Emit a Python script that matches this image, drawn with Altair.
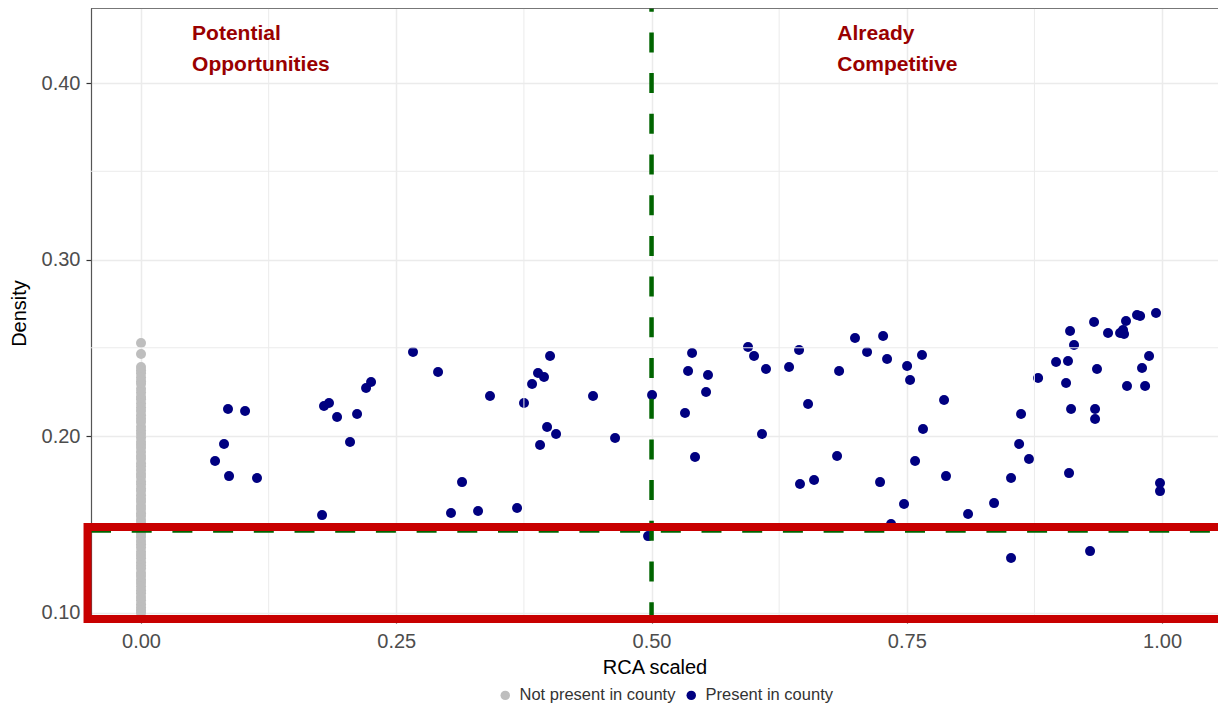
import altair as alt
import pandas as pd

# ---- data ----
present_x = [0.0725, 0.0813, 0.0852, 0.0862, 0.1019, 0.1136, 0.1773, 0.1792, 0.1841, 0.1920,
             0.2047, 0.2116, 0.2204, 0.2253, 0.2664, 0.2909, 0.3036, 0.3144, 0.3301, 0.3418,
             0.3683, 0.3751, 0.3830, 0.3888, 0.3947, 0.3908, 0.3977, 0.4006, 0.4065, 0.4427,
             0.4643, 0.5005, 0.4966, 0.5328, 0.5358, 0.5397, 0.5426, 0.5534, 0.5553, 0.5945,
             0.6004, 0.6082, 0.6121, 0.6347, 0.6445, 0.6454, 0.6533, 0.6592, 0.6817, 0.6837,
             0.6993, 0.7111, 0.7238, 0.7268, 0.7307, 0.7346, 0.7473, 0.7503, 0.7532, 0.7581,
             0.7649, 0.7659, 0.7865, 0.7884, 0.8100, 0.8355, 0.8521, 0.8521, 0.8600, 0.8619,
             0.8697, 0.8786, 0.8962, 0.9060, 0.9079, 0.9099, 0.9089, 0.9109, 0.9138, 0.9295,
             0.9334, 0.9344, 0.9344, 0.9363, 0.9471, 0.9589, 0.9618, 0.9628, 0.9647, 0.9657,
             0.9755, 0.9785, 0.9804, 0.9834, 0.9873, 0.9941, 0.9980, 0.9980]
present_y = [0.1858, 0.1955, 0.2153, 0.1773, 0.2142, 0.1762, 0.1552, 0.2170, 0.2187, 0.2108,
             0.1966, 0.2125, 0.2272, 0.2306, 0.2476, 0.2363, 0.1564, 0.1739, 0.1575, 0.2227,
             0.1592, 0.2187, 0.2295, 0.2357, 0.2334, 0.1949, 0.2051, 0.2453, 0.2011, 0.2227,
             0.1989, 0.2232, 0.1433, 0.2130, 0.2368, 0.2470, 0.1881, 0.2249, 0.2346, 0.2504,
             0.2453, 0.2011, 0.2380, 0.2391, 0.2487, 0.1728, 0.2181, 0.1751, 0.1887, 0.2368,
             0.2555, 0.2476, 0.1739, 0.2567, 0.2436, 0.1501, 0.1615, 0.2397, 0.2317, 0.1858,
             0.2459, 0.2040, 0.2204, 0.1773, 0.1558, 0.1620, 0.1762, 0.1309, 0.1955, 0.2125,
             0.1870, 0.2329, 0.2419, 0.2300, 0.2425, 0.2595, 0.1790, 0.2153, 0.2516, 0.1348,
             0.2646, 0.2153, 0.2096, 0.2380, 0.2584, 0.2584, 0.2601, 0.2578, 0.2652, 0.2283,
             0.2686, 0.2680, 0.2385, 0.2283, 0.2453, 0.2697, 0.1734, 0.1688]
absent_y = [0.2527, 0.2465, 0.2391, 0.2372, 0.2355, 0.2331, 0.2310, 0.2296, 0.2268, 0.2247,
            0.2223, 0.2209, 0.2184, 0.2161, 0.2142, 0.2117, 0.2098, 0.2079, 0.2052, 0.2031,
            0.2013, 0.1992, 0.1968, 0.1951, 0.1933, 0.1909, 0.1887, 0.1871, 0.1846, 0.1829,
            0.1807, 0.1785, 0.1768, 0.1742, 0.1726, 0.1703, 0.1688, 0.1664, 0.1645, 0.1627,
            0.1604, 0.1586, 0.1563, 0.1547, 0.1524, 0.1506, 0.1489, 0.1466, 0.1447, 0.1428,
            0.1405, 0.1387, 0.1369, 0.1344, 0.1326, 0.1308, 0.1285, 0.1266, 0.1249, 0.1224,
            0.1207, 0.1186, 0.1168, 0.1147, 0.1126, 0.1109, 0.1088, 0.1069, 0.1047, 0.1028,
            0.1012, 0.0998]
absent_x = [0.0] * len(absent_y)

status_names = ["Not present in county", "Present in county"]
status_colors = ["#BEBEBE", "#000080"]

x_ticks = [0.0, 0.25, 0.5, 0.75, 1.0]
y_ticks = [0.1, 0.2, 0.3, 0.4]
x_minor = [0.125, 0.375, 0.625, 0.875]
y_minor = [0.15, 0.25, 0.35]

threshold_x = [0.5]
threshold_y = [0.1465]

note_text = ["Potential\nOpportunities", "Already\nCompetitive"]
note_x = [0.05, 0.682]
note_y = [0.428, 0.428]

box_x, box_x2 = [-0.0524], [1.12]
box_y, box_y2 = [0.1484], [0.0963]

# ---- layout ----
W, H = 1127, 610
FONT = "Liberation Sans"
xs = alt.Scale(domain=[-0.049, 1.0548], nice=False, zero=False)
ys = alt.Scale(domain=[0.0969, 0.4425], nice=False, zero=False)

points = pd.DataFrame({
    "x": absent_x + present_x,
    "y": absent_y + present_y,
    "status": [status_names[0]] * len(absent_y) + [status_names[1]] * len(present_y),
})

x_axis = alt.Axis(values=x_ticks, format=".2f", title="RCA scaled", grid=True,
                  gridColor="#EBEBEB", gridWidth=1.5, labelFont=FONT, labelFontSize=20,
                  labelColor="#4D4D4D", tickColor="#333333", tickSize=5, tickWidth=1.2,
                  domainColor="#555555", domainWidth=1.2, labelPadding=8,
                  titleFont=FONT, titleFontSize=20, titleFontWeight="normal",
                  titleColor="#000000", titlePadding=6)
y_axis = alt.Axis(values=y_ticks, format=".2f", title="Density", grid=True,
                  gridColor="#EBEBEB", gridWidth=1.5, labelFont=FONT, labelFontSize=20,
                  labelColor="#4D4D4D", tickColor="#333333", tickSize=5, tickWidth=1.2,
                  domainColor="#555555", domainWidth=1.2, labelPadding=6,
                  titleFont=FONT, titleFontSize=20, titleFontWeight="normal",
                  titleColor="#000000", titlePadding=12)


def X(field="x"):
    return alt.X(f"{field}:Q", scale=xs, axis=x_axis)


def Y(field="y"):
    return alt.Y(f"{field}:Q", scale=ys, axis=y_axis)


dots = alt.Chart(points).mark_circle(size=100, opacity=1).encode(
    x=X(), y=Y(),
    color=alt.Color("status:N",
                    scale=alt.Scale(domain=status_names, range=status_colors),
                    legend=alt.Legend(title=None, orient="none", direction="horizontal",
                                      legendX=406, legendY=679, padding=0,
                                      labelFont=FONT, labelFontSize=16.5,
                                      labelColor="#333333", symbolSize=90,
                                      symbolType="circle", labelOffset=6,
                                      columnPadding=7)),
)

minor_v = alt.Chart(pd.DataFrame({"x": x_minor})).mark_rule(
    color="#EBEBEB", strokeWidth=1.0).encode(x=X())
minor_h = alt.Chart(pd.DataFrame({"y": y_minor})).mark_rule(
    color="#EBEBEB", strokeWidth=1.0).encode(y=Y())

top_border = alt.Chart(pd.DataFrame({"a": [0]})).mark_rule(
    color="#555555", strokeWidth=1.5).encode(
    x=alt.value(0), x2=alt.value(W), y=alt.value(0))

vline = alt.Chart(pd.DataFrame({"x": threshold_x})).mark_rule(
    color="#006400", strokeWidth=4.5, strokeDash=[20, 20.7], strokeDashOffset=16.3).encode(
    x=X(), y=alt.value(0), y2=alt.value(H))

hline = alt.Chart(pd.DataFrame({"y": threshold_y})).mark_rule(
    color="#006400", strokeWidth=4.5, strokeDash=[20, 20.7]).encode(
    y=Y(), x=alt.value(0), x2=alt.value(W))

box = alt.Chart(pd.DataFrame({"x": box_x, "x2": box_x2, "y": box_y, "y2": box_y2})).mark_rect(
    fillOpacity=0, stroke="#C80000", strokeWidth=8, clip=False).encode(
    x=X(), x2="x2:Q", y=Y(), y2="y2:Q")

notes = alt.Chart(pd.DataFrame({"x": note_x, "y": note_y, "t": note_text})).mark_text(
    align="left", baseline="middle", font=FONT, fontSize=21, fontWeight="bold",
    color="#990000", lineBreak="\n", lineHeight=31).encode(
    x=X(), y=Y(), text="t:N")

chart = alt.layer(dots, minor_v, minor_h, hline, vline, box, notes, top_border).properties(
    width=W, height=H,
    autosize=alt.AutoSizeParams(type="none"),
    padding={"left": 83, "top": 0, "right": 0, "bottom": 88},
).configure_view(strokeWidth=0).configure(background="white")

chart.save("out.html", embed_options={"renderer": "svg", "actions": False})
